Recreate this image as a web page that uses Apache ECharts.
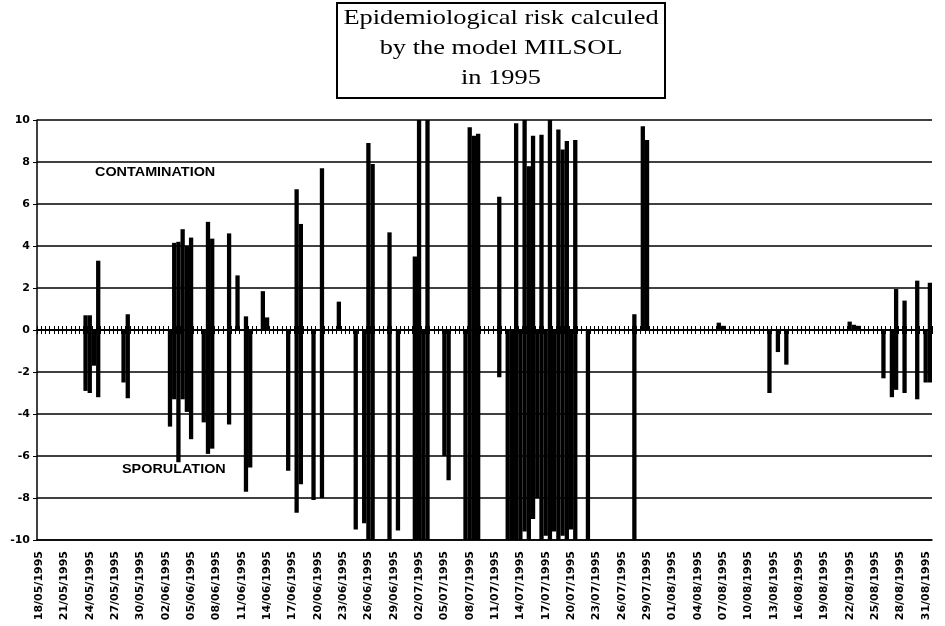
<!DOCTYPE html>
<html><head><meta charset="utf-8">
<script src="https://cdn.jsdelivr.net/npm/echarts@6/dist/echarts.min.js"></script>
<style>html,body{margin:0;padding:0;background:#fff}#c{width:945px;height:626px}</style>
</head><body><div id="c"></div>
<script>
// Tick labels shown every 3 days (every 6 half-day slots)
const tickLabels = ['18/05/1995','21/05/1995','24/05/1995','27/05/1995','30/05/1995','02/06/1995','05/06/1995','08/06/1995','11/06/1995','14/06/1995','17/06/1995','20/06/1995','23/06/1995','26/06/1995','29/06/1995','02/07/1995','05/07/1995','08/07/1995','11/07/1995','14/07/1995','17/07/1995','20/07/1995','23/07/1995','26/07/1995','29/07/1995','01/08/1995','04/08/1995','07/08/1995','10/08/1995','13/08/1995','16/08/1995','19/08/1995','22/08/1995','25/08/1995','28/08/1995','31/08/1995'];
const slotCount = 212; // half-day slots, 18/05/1995 AM .. 31/08/1995 PM

// Contamination risk (positive), by half-day slot
const contaminationSlots  = [11,12,14,21,32,33,34,35,36,40,41,45,47,49,53,54,61,62,67,71,78,79,83,89,90,92,102,103,104,109,113,115,116,117,119,121,123,124,125,127,141,143,144,161,162,192,193,194,203,205,208,211];
const contaminationValues = [0.7,0.7,3.3,0.75,4.15,4.2,4.8,4.0,4.4,5.15,4.35,4.6,2.6,0.65,1.85,0.6,6.7,5.05,7.7,1.35,8.9,7.9,4.65,3.5,10,10,9.65,9.25,9.35,6.35,9.85,10,7.8,9.25,9.3,10,9.55,8.6,9.0,9.05,0.75,9.7,9.05,0.35,0.2,0.4,0.25,0.2,1.95,1.4,2.35,2.25];

// Sporulation risk (negative), by half-day slot
const sporulationSlots  = [11,12,13,14,20,21,31,32,33,34,35,36,39,40,41,45,49,50,59,61,62,65,67,75,77,78,79,83,85,89,90,91,92,96,97,101,102,103,104,109,111,112,113,114,115,116,117,118,119,120,121,122,123,124,125,126,127,130,141,173,175,177,200,202,203,205,208,210,211];
const sporulationValues = [-2.9,-3.0,-1.7,-3.2,-2.5,-3.25,-4.6,-3.3,-6.3,-3.3,-3.9,-5.2,-4.4,-5.9,-5.65,-4.5,-7.7,-6.55,-6.7,-8.7,-7.35,-8.1,-8.0,-9.5,-9.2,-10,-10,-10,-9.55,-10,-10,-10,-10,-6.0,-7.15,-10,-10,-10,-10,-2.25,-10,-10,-10,-10,-9.6,-10,-9.0,-8.0,-10,-9.8,-10,-9.6,-10,-9.8,-10,-9.5,-10,-10,-10,-3.0,-1.05,-1.65,-2.3,-3.2,-2.85,-3.0,-3.3,-2.5,-2.5];

const yTicks = {min: -10, max: 10, step: 2};

const categories = [];
for (let i = 0; i < slotCount; i++) categories.push(String(i));
function toSeries(slots, values) {
  const arr = new Array(slotCount).fill(null);
  slots.forEach((s, k) => { arr[s] = values[k]; });
  return arr;
}
const contData = toSeries(contaminationSlots, contaminationValues);
const sporData = toSeries(sporulationSlots, sporulationValues);

const chart = echarts.init(document.getElementById('c'), null, {renderer: 'canvas'});
const black = '#000';
const sans = 'DejaVu Sans';
chart.setOption({
  animation: false,
  backgroundColor: '#fff',
  grid: {left: 37, right: 13, top: 120, bottom: 86, containLabel: false},
  xAxis: [
    {
      type: 'category', data: categories, position: 'bottom',
      axisLine: {show: true, onZero: false, lineStyle: {color: black, width: 1.5}},
      axisTick: {show: false},
      axisLabel: {
        interval: 5, rotate: 90, margin: 11, color: black, fontFamily: sans, fontSize: 11, fontWeight: 'bold',
        formatter: (v, idx) => tickLabels[Math.round(idx / 6)] || ''
      },
      splitLine: {show: false}
    },
    {
      type: 'category', data: categories, position: 'bottom',
      axisLine: {show: true, onZero: true, onZeroAxisIndex: 0, lineStyle: {color: black, width: 2}},
      axisTick: {show: true, interval: 0, length: 4, lineStyle: {color: black, width: 1}},
      axisLabel: {show: false}, splitLine: {show: false}
    },
    {
      type: 'category', data: categories, position: 'top',
      axisLine: {show: true, onZero: true, onZeroAxisIndex: 1, lineStyle: {color: black, width: 2}},
      axisTick: {show: true, interval: 0, length: 4, lineStyle: {color: black, width: 1}},
      axisLabel: {show: false}, splitLine: {show: false}
    }
  ],
  yAxis: [
    {
      type: 'value', min: yTicks.min, max: yTicks.max, interval: yTicks.step,
      axisLine: {show: true, lineStyle: {color: black, width: 1.5}},
      axisTick: {show: true, length: 4, lineStyle: {color: black}},
      axisLabel: {color: black, fontFamily: sans, fontSize: 11, fontWeight: 'bold', margin: 7},
      splitLine: {show: true, lineStyle: {color: black, width: 1.5}}
    },
    {
      type: 'value', min: yTicks.min, max: yTicks.max, interval: yTicks.step, show: false,
      splitLine: {show: false}
    }
  ],
  series: [
    {type: 'bar', name: 'Contamination', data: contData, xAxisIndex: 0, yAxisIndex: 0,
     barWidth: 4.3, barGap: '-100%', itemStyle: {color: black}, silent: true},
    {type: 'bar', name: 'Sporulation', data: sporData, xAxisIndex: 0, yAxisIndex: 0,
     barWidth: 4.3, barGap: '-100%', itemStyle: {color: black}, silent: true}
  ],
  graphic: [
    {type: 'rect', shape: {x: 337, y: 3, width: 328, height: 95},
     style: {fill: '#fff', stroke: black, lineWidth: 2}, z: 10},
    {type: 'text', x: 501, y: 3, scaleX: 1.2, z: 11,
     style: {text: 'Epidemiological risk calculed\nby the model MILSOL\nin 1995',
             align: 'center', verticalAlign: 'top', fontFamily: 'Liberation Serif',
             fontSize: 22, lineHeight: 30, fill: black}},
    {type: 'text', x: 95, y: 173, scaleX: 1.2, z: 11,
     style: {text: 'CONTAMINATION', align: 'left', verticalAlign: 'middle',
             fontFamily: 'Liberation Sans', fontWeight: 'bold', fontSize: 12, fill: black}},
    {type: 'text', x: 122, y: 470, scaleX: 1.2, z: 11,
     style: {text: 'SPORULATION', align: 'left', verticalAlign: 'middle',
             fontFamily: 'Liberation Sans', fontWeight: 'bold', fontSize: 12, fill: black}}
  ]
});
</script></body></html>
